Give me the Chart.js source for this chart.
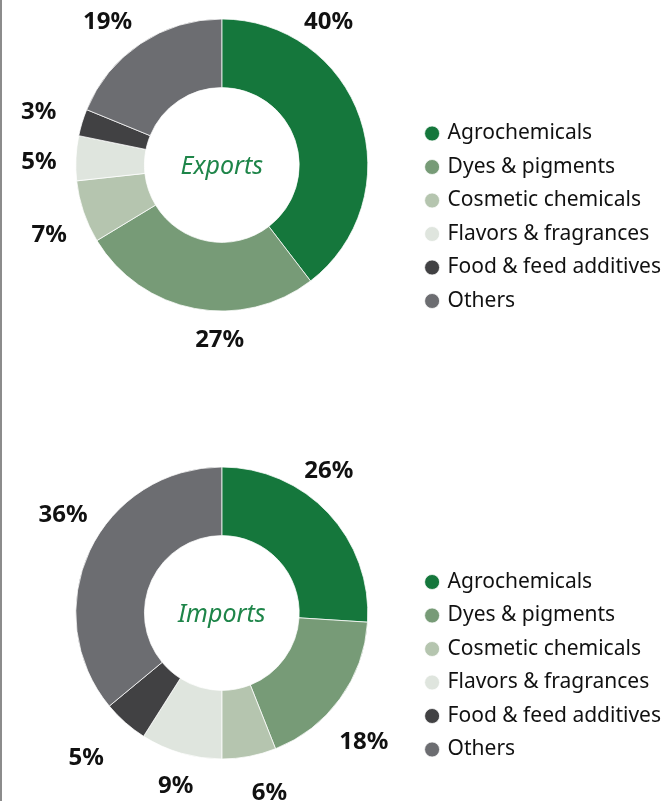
<!DOCTYPE html>
<html>
<style>
body {
    margin: 0;
    background: #ffffff;
    overflow: hidden;
}

.page {
    width: 664px;
    height: 801px;
    border-left: 2px solid #8c8c8c;
    overflow: hidden;
}

.box {
    position: relative;
    width: 669px;
}
</style>
  <head>
    <meta charset="utf-8">
    <title>Chemicals trade</title>
  </head>
  <body>
    <div class="page">
      <div class="box" style="height:400px"><canvas id="exportsChart"></canvas></div>
      <div class="box" style="height:401px"><canvas id="importsChart"></canvas></div>
    </div>

    <script src="https://cdn.jsdelivr.net/npm/chart.js@4.4.1/dist/chart.umd.min.js"></script>
    <script type="text/javascript">
      const categories = ['Agrochemicals', 'Dyes & pigments', 'Cosmetic chemicals',
                          'Flavors & fragrances', 'Food & feed additives', 'Others'];
      const exportShares = [40, 27, 7, 5, 3, 19];
      const importShares = [26, 18, 6, 9, 5, 36];

      const sliceColors = ['#15773c', '#779b77', '#b5c5af', '#dfe5de', '#414143', '#6c6d71'];

      // where each percentage sits: degrees past the slice middle, px past the rim
      const exportLabelTurn = [-34.7, -10, -3.1, -1.4, -0.5, -4.5];
      const exportLabelGap  = [33, 28.5, 40, 37, 45, 38];
      const importLabelTurn = [-10, 6, -4.1, -1.2, 1.8, 6.7];
      const importLabelGap  = [32.5, 45, 39, 32, 52, 41];

      const pctLabels = {
        id: 'pctLabels',
        afterDatasetsDraw(chart, args, opts) {
          const ctx = chart.ctx;
          const meta = chart.getDatasetMeta(0);
          const values = chart.data.datasets[0].data;
          ctx.save();
          ctx.font = 'bold 24px "Noto Sans"';
          ctx.fillStyle = '#111111';
          ctx.textAlign = 'center';
          ctx.textBaseline = 'middle';
          meta.data.forEach((arc, i) => {
            const p = arc.getProps(['x', 'y', 'startAngle', 'endAngle', 'outerRadius'], true);
            const a = (p.startAngle + p.endAngle) / 2 + opts.turn[i] * Math.PI / 180;
            const r = p.outerRadius + opts.gap[i];
            ctx.fillText(values[i] + '%', p.x + Math.cos(a) * r, p.y + Math.sin(a) * r + 1);
          });
          // caption in the hole
          const c = meta.data[0];
          ctx.font = 'italic 25px "Noto Sans"';
          ctx.fillStyle = '#1e8549';
          ctx.fillText(opts.title, c.x, c.y + 2);
          ctx.restore();
        }
      };

      function makeDonut(id, values, title, turn, gap, pad) {
        return new Chart(document.getElementById(id), {
          type: 'doughnut',
          data: {
            labels: categories,
            datasets: [{
              data: values,
              backgroundColor: sliceColors,
              borderColor: '#ffffff',
              borderWidth: 0.75
            }]
          },
          options: {
            responsive: true,
            maintainAspectRatio: false,
            animation: false,
            radius: 146,
            cutout: '53%',
            layout: { padding: pad },
            plugins: {
              tooltip: { enabled: false },
              legend: {
                position: 'right',
                align: 'end',
                labels: {
                  usePointStyle: true,
                  pointStyle: 'circle',
                  boxWidth: 10,
                  boxHeight: 10.6,
                  padding: 12.5,
                  color: '#111111',
                  font: { family: '"Noto Sans"', size: 21 }
                }
              },
              pctLabels: { title: title, turn: turn, gap: gap }
            }
          },
          plugins: [pctLabels]
        });
      }

      makeDonut('exportsChart', exportShares, 'Exports', exportLabelTurn, exportLabelGap,
                { top: 6, bottom: 76, left: 27, right: 0 });
      makeDonut('importsChart', importShares, 'Imports', importLabelTurn, importLabelGap,
                { top: 53.5, bottom: 28.5, left: 27, right: 0 });
    </script>
  </body>
</html>
